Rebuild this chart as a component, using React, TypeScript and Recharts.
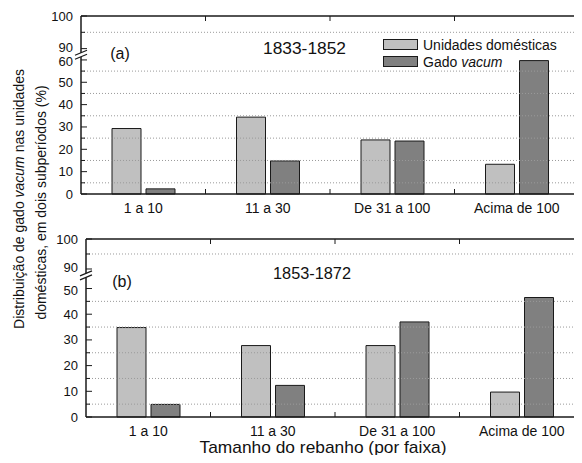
import React from 'react';
import { BarChart, Bar, XAxis, YAxis, ReferenceLine, Legend } from 'recharts';

const categories = ['1 a 10', '11 a 30', 'De 31 a 100', 'Acima de 100'];
const domesticA = [29.3, 34.4, 24.2, 13.3];
const gadoA = [2.3, 14.8, 23.7, 59.7];
const domesticB = [34.8, 27.8, 27.8, 9.7];
const gadoB = [4.9, 12.3, 37.0, 46.5];

const FONT = '"Liberation Sans", Arial, sans-serif';
const INK = '#1a1a1a';
const LIGHT = '#c0c0c0';
const DARK = '#808080';
const PLOT_W = 498;
const BAND = PLOT_W / categories.length;
const SERIES_ORDER = ['dom', 'gado'];

// broken axis: values up to lowMax are drawn as-is, 90..100 sits above a small gap
type Seg = { lowMax: number; gap: number; ratio: number };
const segA: Seg = { lowMax: 60, gap: 5.06, ratio: 1.46 };
const segB: Seg = { lowMax: 53, gap: 4.6, ratio: 1.167 };

const toAxis = (v: number, s: Seg) => (v <= s.lowMax ? v : s.lowMax + s.gap + (v - 90) * s.ratio);
const axisMax = (s: Seg) => s.lowMax + s.gap + 10 * s.ratio;

type Tk = { pos: number; label: string; kind: 'major' | 'minor' | 'break'; dy: number };

function buildTicks(s: Seg): Tk[] {
  const out: Tk[] = [];
  for (let v = 0; v <= s.lowMax; v += 5) {
    const major = v % 10 === 0;
    // labels right next to the break get pushed apart a little
    const dy = major && v + 10 > s.lowMax ? 1.5 : 0;
    out.push({ pos: v, label: major ? String(v) : '', kind: major ? 'major' : 'minor', dy });
  }
  out.push({ pos: s.lowMax + s.gap / 2, label: '', kind: 'break', dy: 0 });
  [90, 95, 100].forEach((v) =>
    out.push({
      pos: toAxis(v, s),
      label: v % 10 === 0 ? String(v) : '',
      kind: v % 10 === 0 ? 'major' : 'minor',
      dy: v === 90 ? -1.5 : 0,
    })
  );
  return out;
}

function BreakMark({ x, y }: { x: number; y: number }) {
  return (
    <g>
      <polygon points={`${x - 6},${y + 1} ${x + 6},${y - 4} ${x + 6},${y} ${x - 6},${y + 5}`} fill="#fff" />
      <line x1={x - 6} y1={y + 1} x2={x + 6} y2={y - 4} stroke={INK} strokeWidth={1.2} />
      <line x1={x - 6} y1={y + 5} x2={x + 6} y2={y} stroke={INK} strokeWidth={1.2} />
    </g>
  );
}

const makeYTick = (ticks: Tk[], side: 'left' | 'right') => (props: any) => {
  const { x, y, payload } = props;
  const t = ticks.find((tk) => Math.abs(tk.pos - payload.value) < 1e-6);
  if (!t) return <g />;
  if (t.kind === 'break') return <BreakMark x={x} y={y} />;
  const dir = side === 'left' ? 1 : -1;
  const len = t.kind === 'major' ? 6 : 4;
  return (
    <g>
      <line x1={x} x2={x + dir * len} y1={y} y2={y} stroke={INK} strokeWidth={1} />
      {side === 'left' && t.label && (
        <text x={x - 8} y={y + t.dy} textAnchor="end" dominantBaseline="central" fontSize={13} fontFamily={FONT} fill="#111">
          {t.label}
        </text>
      )}
    </g>
  );
};

const XTickBottom = (props: any) => {
  const { x, y, payload, index } = props;
  return (
    <g>
      {index < categories.length - 1 && (
        <line x1={x + BAND / 2} x2={x + BAND / 2} y1={y} y2={y - 5} stroke={INK} strokeWidth={1} />
      )}
      <text x={x} y={y + 14} textAnchor="middle" dominantBaseline="central" fontSize={14} fontFamily={FONT} fill="#111">
        {payload.value}
      </text>
    </g>
  );
};

const XTickTop = (props: any) => {
  const { x, y, index } = props;
  if (index >= categories.length - 1) return <g />;
  return <line x1={x + BAND / 2} x2={x + BAND / 2} y1={y} y2={y + 5} stroke={INK} strokeWidth={1} />;
};

const swatch: Record<string, string> = { dom: LIGHT, gado: DARK };

const renderName = (name: string) => {
  if (name.endsWith('vacum')) {
    return (
      <>
        {name.replace('vacum', '')}
        <i>vacum</i>
      </>
    );
  }
  return name;
};

const LegendBox = ({ payload }: any) => {
  const items = [...(payload || [])].sort(
    (a: any, b: any) => SERIES_ORDER.indexOf(a.dataKey) - SERIES_ORDER.indexOf(b.dataKey)
  );
  return (
    <div style={{ fontFamily: FONT, fontSize: 14, color: '#111' }}>
      {items.map((p: any) => (
        <div key={p.value} style={{ display: 'flex', alignItems: 'center', height: 17 }}>
          <span
            style={{
              display: 'inline-block',
              width: 35,
              height: 11,
              boxSizing: 'border-box',
              border: `1px solid ${INK}`,
              background: swatch[p.dataKey] || p.color,
              marginRight: 5,
            }}
          />
          <span>{renderName(p.value)}</span>
        </div>
      ))}
    </div>
  );
};

interface PanelProps {
  seg: Seg;
  dom: number[];
  gado: number[];
  width: number;
  leftW: number;
  legend?: boolean;
}

function Panel({ seg, dom, gado, width, leftW, legend }: PanelProps) {
  const data = categories.map((cat, i) => ({ cat, dom: toAxis(dom[i], seg), gado: toAxis(gado[i], seg) }));
  const ticks = buildTicks(seg);
  const grid = ticks.filter((t) => t.kind === 'minor');
  const axisLine = { stroke: INK, strokeWidth: 1.5 };

  return (
    <BarChart width={width} height={216} data={data} margin={{ top: 0, right: 0, bottom: 0, left: 0 }} barGap={5} barSize={29}>
      <XAxis xAxisId="bottom" dataKey="cat" orientation="bottom" height={30} interval={0}
        tickSize={0} tickMargin={0} tickLine={false} tick={XTickBottom} axisLine={axisLine} />
      <XAxis xAxisId="top" dataKey="cat" orientation="top" height={8} interval={0}
        tickSize={0} tickMargin={0} tickLine={false} tick={XTickTop} axisLine={axisLine} />
      <YAxis yAxisId="left" type="number" domain={[0, axisMax(seg)]} ticks={ticks.map((t) => t.pos)}
        width={leftW} interval={0} tickSize={0} tickMargin={0} tickLine={false}
        tick={makeYTick(ticks, 'left')} axisLine={axisLine} />
      <YAxis yAxisId="right" orientation="right" type="number" domain={[0, axisMax(seg)]} ticks={ticks.map((t) => t.pos)}
        width={3} interval={0} tickSize={0} tickMargin={0} tickLine={false}
        tick={makeYTick(ticks, 'right')} axisLine={axisLine} />
      {grid.map((t) => (
        <ReferenceLine key={t.pos} yAxisId="left" xAxisId="bottom" y={t.pos}
          stroke="#9a9a9a" strokeWidth={1} strokeDasharray="1 2" />
      ))}
      <Bar xAxisId="bottom" yAxisId="left" dataKey="dom" name="Unidades domésticas" fill={LIGHT}
        stroke={INK} strokeWidth={1} isAnimationActive={false} />
      <Bar xAxisId="bottom" yAxisId="left" dataKey="gado" name="Gado vacum" fill={DARK}
        stroke={INK} strokeWidth={1} isAnimationActive={false} />
      {legend && (
        <Legend layout="vertical" align="center" verticalAlign="middle" content={<LegendBox />}
          wrapperStyle={{ left: 375, top: 28, width: 'auto' }} />
      )}
    </BarChart>
  );
}

const txt = { fontFamily: FONT, fill: '#111' };

export default function App() {
  return (
    <div style={{ position: 'relative', width: 574, height: 447, overflow: 'hidden', background: '#fff' }}>
      <div style={{ position: 'absolute', left: 0, top: 0 }}>
        <Panel seg={segA} dom={domesticA} gado={gadoA} width={574} leftW={73} legend />
      </div>
      <div style={{ position: 'absolute', left: 0, top: 223 }}>
        <Panel seg={segB} dom={domesticB} gado={gadoB} width={579} leftW={78} />
      </div>
      <svg width={574} height={447} style={{ position: 'absolute', left: 0, top: 0, pointerEvents: 'none' }}>
        <text x={112} y={45} fontSize={16} textAnchor="middle" dominantBaseline="central" {...txt}>(a)</text>
        <text x={296.5} y={40} fontSize={17} textLength={83} lengthAdjust="spacingAndGlyphs"
          textAnchor="middle" dominantBaseline="central" {...txt}>1833-1852</text>
        <text x={114} y={273} fontSize={16} textAnchor="middle" dominantBaseline="central" {...txt}>(b)</text>
        <text x={304} y={265} fontSize={17} textLength={78} lengthAdjust="spacingAndGlyphs"
          textAnchor="middle" dominantBaseline="central" {...txt}>1853-1872</text>
        <text x={315} y={439} fontSize={17} textLength={247} lengthAdjust="spacingAndGlyphs"
          textAnchor="middle" dominantBaseline="central" {...txt}>
          Tamanho do rebanho (por faixa)
        </text>
        <text x={11} y={191} fontSize={14} textAnchor="middle" dominantBaseline="central"
          transform="rotate(-90 11 191)" {...txt}>
          Distribuição de gado <tspan fontStyle="italic">vacum</tspan> nas unidades
        </text>
        <text x={33} y={194.5} fontSize={14} textAnchor="middle" dominantBaseline="central"
          transform="rotate(-90 33 194.5)" {...txt}>
          domésticas, em dois subperíodos (%)
        </text>
      </svg>
    </div>
  );
}
